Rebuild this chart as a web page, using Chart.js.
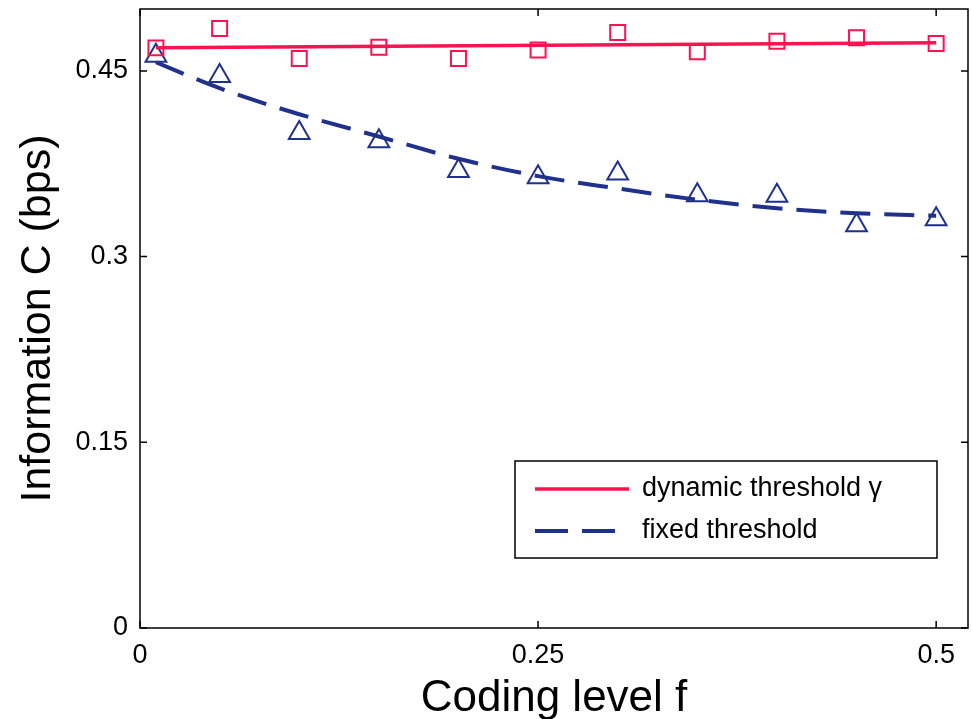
<!DOCTYPE html>
<html>
<head>
<meta charset="utf-8">
<script src="https://cdn.jsdelivr.net/npm/chart.js@4.4.1/dist/chart.umd.min.js"></script>
<style>
  html, body { margin: 0; padding: 0; background: #fff; }
  #wrap { width: 972px; height: 719px; }
</style>
</head>
<body>
<div id="wrap"><canvas id="info-chart"></canvas></div>
<script>
// values
const codingLevels = [0.01, 0.05, 0.1, 0.15, 0.2, 0.25, 0.3, 0.35, 0.4, 0.45, 0.5];
const dynamicPoints = [0.4686, 0.4843, 0.460, 0.4692, 0.460, 0.4668, 0.481, 0.4654, 0.474, 0.4767, 0.4722];
const fixedPoints = [0.4622, 0.4458, 0.3999, 0.3932, 0.3692, 0.364, 0.3671, 0.3495, 0.3491, 0.3254, 0.3302];
const dynamicFitX = [0.01, 0.5];
const dynamicFit = [0.4686, 0.4727];
const fixedFit = [0.457, 0.436, 0.415, 0.397, 0.379, 0.365, 0.355, 0.346, 0.339, 0.335, 0.333];
const seriesNames = ["dynamic threshold γ", "fixed threshold"];
const xTicks = [0, 0.25, 0.5];
const yTicks = [0, 0.15, 0.3, 0.45];

const RED = "#fb1251";
const BLUE = "#1f318a";
const FONT = "'Liberation Sans', Arial, Helvetica, sans-serif";

const pairs = (xs, ys) => xs.map((x, i) => ({ x: x, y: ys[i] }));

// box frame, inward ticks on all four sides, and the legend inside the plot
const frameLegend = {
  id: "frameLegend",
  afterDraw(chart) {
    const { ctx, chartArea: a, scales: { x, y } } = chart;
    ctx.save();
    ctx.strokeStyle = "#000";
    ctx.lineWidth = 1.5;
    ctx.strokeRect(a.left, a.top, a.right - a.left, a.bottom - a.top);
    ctx.beginPath();
    xTicks.forEach(v => {
      const px = x.getPixelForValue(v);
      ctx.moveTo(px, a.bottom); ctx.lineTo(px, a.bottom - 7);
      ctx.moveTo(px, a.top); ctx.lineTo(px, a.top + 7);
    });
    yTicks.forEach(v => {
      const py = y.getPixelForValue(v);
      ctx.moveTo(a.left, py); ctx.lineTo(a.left + 7, py);
      ctx.moveTo(a.right, py); ctx.lineTo(a.right - 7, py);
    });
    ctx.stroke();

    // legend
    const bx = a.left + 375, by = a.bottom - 167, bw = a.right - 31 - bx, bh = 97;
    ctx.fillStyle = "#fff";
    ctx.fillRect(bx, by, bw, bh);
    ctx.strokeRect(bx, by, bw, bh);
    const rows = [
      { name: seriesNames[0], color: RED, width: 3.5, dash: [] },
      { name: seriesNames[1], color: BLUE, width: 4, dash: [33, 14] }
    ];
    ctx.font = "27px " + FONT;
    ctx.textBaseline = "middle";
    rows.forEach((r, i) => {
      const ly = by + 28 + i * 42;
      ctx.beginPath();
      ctx.strokeStyle = r.color;
      ctx.lineWidth = r.width;
      ctx.setLineDash(r.dash);
      ctx.moveTo(bx + 20, ly);
      ctx.lineTo(bx + 114, ly);
      ctx.stroke();
      ctx.setLineDash([]);
      ctx.fillStyle = "#000";
      ctx.fillText(r.name, bx + 127, ly);
    });
    ctx.restore();
  }
};

const canvas = document.getElementById("info-chart");

new Chart(canvas, {
  type: "scatter",
  data: {
    datasets: [
      {
        label: seriesNames[0],
        data: pairs(dynamicFitX, dynamicFit),
        showLine: true,
        borderColor: RED,
        borderWidth: 3.5,
        pointRadius: 0,
        clip: false
      },
      {
        label: seriesNames[1],
        data: pairs(codingLevels, fixedFit),
        showLine: true,
        borderColor: BLUE,
        borderWidth: 4,
        borderDash: [30, 14],
        cubicInterpolationMode: "monotone",
        pointRadius: 0,
        clip: false
      },
      {
        label: "dynamic data",
        data: pairs(codingLevels, dynamicPoints),
        pointStyle: "rect",
        pointRadius: 10.6,
        pointBorderWidth: 2,
        borderColor: RED,
        backgroundColor: "rgba(0,0,0,0)",
        clip: false
      },
      {
        label: "fixed data",
        data: pairs(codingLevels, fixedPoints),
        pointStyle: "triangle",
        pointRadius: 12,
        pointBorderWidth: 2,
        borderColor: BLUE,
        backgroundColor: "rgba(0,0,0,0)",
        clip: false
      }
    ]
  },
  options: {
    responsive: true,
    maintainAspectRatio: false,
    animation: false,
    layout: { autoPadding: false, padding: { top: 9, right: 4, left: 0, bottom: 0 } },
    plugins: {
      legend: { display: false },
      tooltip: { enabled: false }
    },
    scales: {
      x: {
        type: "linear",
        min: 0,
        max: 0.52,
        afterBuildTicks: s => { s.ticks = xTicks.map(v => ({ value: v })); },
        afterFit: s => { s.height = 91; s.paddingLeft = 0; s.paddingRight = 0; },
        grid: { display: false, drawTicks: false },
        border: { display: false },
        ticks: {
          color: "#000",
          font: { family: FONT, size: 27 },
          padding: 11,
          maxRotation: 0,
          autoSkip: false,
          callback: v => String(v)
        },
        title: {
          display: true,
          text: "Coding level f",
          color: "#000",
          font: { family: FONT, size: 44, lineHeight: 0.9 },
          padding: { top: 0, bottom: 0 }
        }
      },
      y: {
        min: 0,
        max: 0.5,
        afterBuildTicks: s => { s.ticks = yTicks.map(v => ({ value: v })); },
        afterFit: s => { s.width = 140; s.paddingTop = 0; s.paddingBottom = 0; },
        grid: { display: false, drawTicks: false },
        border: { display: false },
        ticks: {
          color: "#000",
          font: { family: FONT, size: 27 },
          padding: 12,
          autoSkip: false,
          callback: v => String(v)
        },
        title: {
          display: true,
          text: "Information C (bps)",
          color: "#000",
          font: { family: FONT, size: 43, lineHeight: 1 },
          padding: { top: 17, bottom: 0 }
        }
      }
    }
  },
  plugins: [frameLegend]
});
</script>
</body>
</html>
